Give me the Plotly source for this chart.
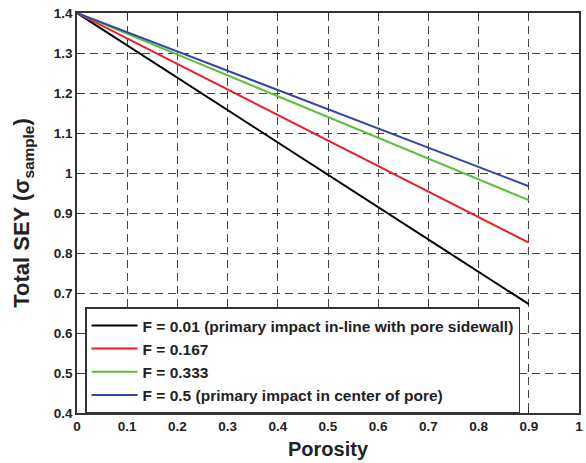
import plotly.graph_objects as go

porosity = [0.0, 0.9]
labels = ["F = 0.01 (primary impact in-line with pore sidewall)", "F = 0.167", "F = 0.333",
          "F = 0.5 (primary impact in center of pore)"]
sey_f001 = [1.4, 0.672]
sey_f0167 = [1.4, 0.826]
sey_f0333 = [1.4, 0.932]
sey_f05 = [1.4, 0.967]
colors = ["#000000", "#ee1c25", "#5cbf3a", "#3344aa"]

x_ticks = [0, 0.1, 0.2, 0.3, 0.4, 0.5, 0.6, 0.7, 0.8, 0.9, 1]
x_text = ["0", "0.1", "0.2", "0.3", "0.4", "0.5", "0.6", "0.7", "0.8", "0.9", "1"]
y_ticks = [0.4, 0.5, 0.6, 0.7, 0.8, 0.9, 1.0, 1.1, 1.2, 1.3, 1.4]
y_text = ["0.4", "0.5", "0.6", "0.7", "0.8", "0.9", "1", "1.1", "1.2", "1.3", "1.4"]

fig = go.Figure()
for lab, ys, c in zip(labels, [sey_f001, sey_f0167, sey_f0333, sey_f05], colors):
    fig.add_trace(go.Scatter(x=porosity, y=ys, mode="lines", name=lab,
                             line=dict(color=c, width=2)))

axis_common = dict(
    showline=True, linecolor="#333333", linewidth=1.5, mirror="ticks",
    ticks="inside", ticklen=6, tickcolor="#333333",
    showgrid=True, gridcolor="#444444", griddash="8px,5px", gridwidth=1,
    zeroline=False, automargin=False,
    tickfont=dict(family="Liberation Sans", size=13.5, color="#222222", weight="bold"),
)

fig.update_layout(
    width=586, height=463,
    margin=dict(l=77, r=7, t=13, b=50),
    paper_bgcolor="white", plot_bgcolor="white",
    font=dict(family="Liberation Sans"),
    showlegend=True,
    legend=dict(x=0.016, y=0.264, xanchor="left", yanchor="top",
                bgcolor="white", bordercolor="#333333", borderwidth=1.5,
                itemwidth=46,
                font=dict(family="Liberation Sans", size=15.5, color="#222222", weight="bold"),
                tracegroupgap=0),
    xaxis=dict(range=[0, 1], tickvals=x_ticks, ticktext=x_text,
               title=dict(text="Porosity", standoff=9,
                          font=dict(family="Liberation Sans", size=20, color="#222222", weight="bold")),
               **axis_common),
    yaxis=dict(range=[0.4, 1.4], tickvals=y_ticks, ticktext=y_text,
               title=dict(text="Total SEY (σ<sub>sample</sub>)", standoff=18,
                          font=dict(family="Liberation Sans", size=22, color="#222222", weight="bold")),
               **axis_common),
)

fig.write_html("out.html", config={"displayModeBar": False},
               post_script="document.body.style.margin='0';")
